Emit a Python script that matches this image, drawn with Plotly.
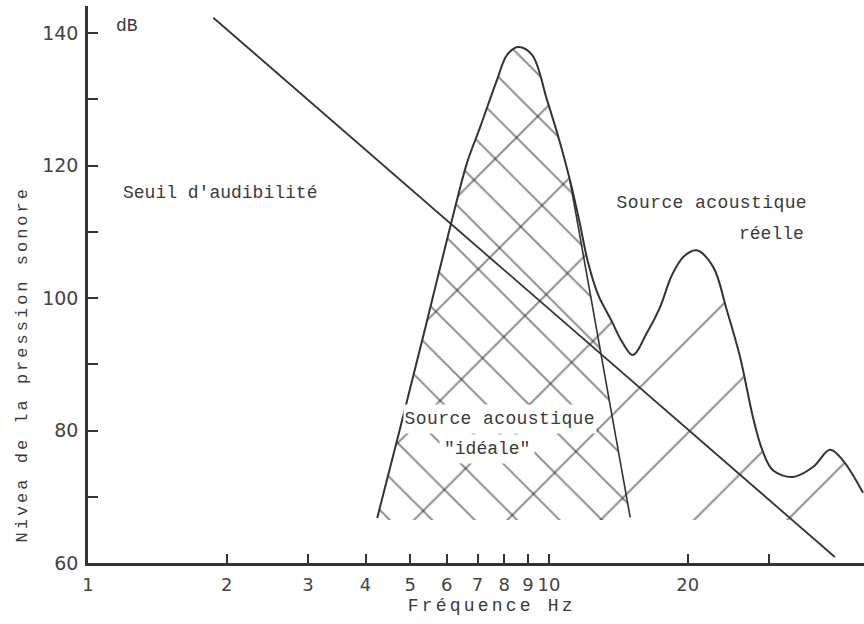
import plotly.graph_objects as go

# ---- data (frequency in Hz, level in dB) ----
# hearing threshold ("Seuil d'audibilité") - straight line
seuil_f = [1.87, 41.7]
seuil_db = [142.3, 60.9]

# real acoustic source spectrum
reelle_f = [4.24, 4.70, 5.33, 5.74, 6.16, 6.64, 7.09, 7.71, 8.11, 8.57, 9.19,
            9.90, 10.57, 11.10, 11.62, 12.15, 12.78, 13.70, 14.40, 15.2, 16.3,
            17.41, 18.49, 19.63, 20.9, 22.7, 24.3, 25.97, 27.7, 29.0, 30.6,
            33.8, 37.4, 40.7, 43.4, 48.0]
reelle_db = [66.8, 79.0, 94.1, 103.2, 111.8, 120.4, 125.8, 132.9, 136.7, 137.9, 136.7,
             129.9, 123.4, 117.8, 111.8, 105.4, 100.5, 96.4, 93.4, 91.4, 94.7,
             98.6, 103.5, 106.3, 107.2, 104.7, 98.2, 91.1, 82.0, 77.1, 74.0,
             73.0, 74.5, 77.1, 75.5, 70.6]

# "ideal" source: follows the real peak up to the branch point, then a straight edge
ideal_branch_f = 11.10
ideal_edge_f = [15.0]
ideal_edge_db = [66.9]

# lower limit of the hatched areas
hatch_floor_db = 66.5

# axis ticks
x_tickvals = [1, 2, 3, 4, 5, 6, 7, 8, 9, 10, 20, 30]
x_ticktext = ["1", "2", "3", "4", "5", "6", "7", "8", "9", "10", "20", ""]
y_tickvals = [60, 70, 80, 90, 100, 110, 120, 130, 140]
y_ticktext = ["60", "", "80", "", "100", "", "120", "", "140"]

# ---- layout geometry ----
W, H = 864, 624
ML, MR, MT, MB = 88, 0, 6, 61
PW, PH = W - ML - MR, H - MT - MB

INK = "#333333"
TXT = "#3a3a3a"
HATCH = "#1e1e1e"
MONO = "Liberation Mono"


def px(xp):
    return (xp - ML) / PW


def py(yp):
    return (H - MB - yp) / PH


k = reelle_f.index(ideal_branch_f)
ideal_f = reelle_f[:k + 1] + ideal_edge_f
ideal_db = reelle_db[:k + 1] + ideal_edge_db

fig = go.Figure()

# shallow hatching over the whole real-source area (curve down to the floor)
fig.add_trace(go.Scatter(
    x=[reelle_f[0], reelle_f[-1]], y=[hatch_floor_db, hatch_floor_db],
    mode="lines", line=dict(width=0), hoverinfo="skip",
))
fig.add_trace(go.Scatter(
    x=reelle_f, y=reelle_db,
    mode="lines", line=dict(width=0, shape="spline", smoothing=1.0),
    fill="tonexty", fillcolor="rgba(0,0,0,0)",
    fillpattern=dict(shape="/", size=66, solidity=0.03,
                     fgcolor=HATCH, bgcolor="rgba(0,0,0,0)"),
    hoverinfo="skip",
))

# steep hatching over the ideal-source area
fig.add_trace(go.Scatter(
    x=[ideal_f[0], ideal_f[-1]], y=[hatch_floor_db, hatch_floor_db],
    mode="lines", line=dict(width=0), hoverinfo="skip",
))
fig.add_trace(go.Scatter(
    x=ideal_f, y=ideal_db,
    mode="lines", line=dict(width=0, shape="spline", smoothing=0.6),
    fill="tonexty", fillcolor="rgba(0,0,0,0)",
    fillpattern=dict(shape="\\", size=30, solidity=0.065,
                     fgcolor=HATCH, bgcolor="rgba(0,0,0,0)"),
    hoverinfo="skip",
))

# hearing threshold
fig.add_trace(go.Scatter(x=seuil_f, y=seuil_db, mode="lines",
                         line=dict(color=INK, width=1.8), hoverinfo="skip"))

# real source curve
fig.add_trace(go.Scatter(x=reelle_f, y=reelle_db, mode="lines",
                         line=dict(color=INK, width=2, shape="spline", smoothing=1.0),
                         hoverinfo="skip"))

# straight right edge of the ideal source
fig.add_trace(go.Scatter(x=ideal_f[k:], y=ideal_db[k:], mode="lines",
                         line=dict(color=INK, width=1.6), hoverinfo="skip"))

annotations = [
    dict(text="Seuil d'audibilité", x=px(220), y=py(193), size=18),
    dict(text="Source acoustique", x=px(712), y=py(203), size=18),
    dict(text="réelle", x=px(805), y=py(234), size=18, xanchor="right"),
    dict(text="Source acoustique", x=px(500), y=py(419), size=18, bg=True),
    dict(text="\"idéale\"", x=px(487), y=py(449), size=18, bg=True),
    dict(text="Fréquence Hz", x=px(492), y=py(606), size=18),
    dict(text="Nivea de la pression sonore", x=px(22), y=py(365), size=17, angle=-90),
    dict(text="dB", x=px(127), y=py(26), size=18),
]
letter_spacing = [0, 0.4, 0, 0.4, 0, 3.2, 3.0, 0]

for a in annotations:
    fig.add_annotation(
        text=a["text"], xref="paper", yref="paper", x=a["x"], y=a["y"],
        xanchor=a.get("xanchor", "center"), yanchor="middle",
        showarrow=False, textangle=a.get("angle", 0),
        font=dict(family=MONO, size=a["size"], color=TXT),
        bgcolor="white" if a.get("bg") else "rgba(0,0,0,0)",
        borderpad=4 if a.get("bg") else 0,
    )

fig.update_xaxes(
    type="log", range=[0, PW / 461.0], showgrid=False, zeroline=False,
    showline=True, linecolor=INK, linewidth=2.6, mirror=False,
    ticks="inside", ticklen=9, tickwidth=1.5, tickcolor=INK,
    tickvals=x_tickvals, ticktext=x_ticktext,
    tickfont=dict(family="DejaVu Sans", size=18, color="#444444"),
    ticklabelstandoff=4,
)
fig.update_yaxes(
    range=[60, 60 + PH / 6.625], showgrid=False, zeroline=False,
    showline=True, linecolor=INK, linewidth=2.6,
    ticks="inside", ticklen=10, tickwidth=1.5, tickcolor=INK,
    tickvals=y_tickvals, ticktext=y_ticktext,
    tickfont=dict(family="DejaVu Sans", size=19, color="#444444"),
    ticklabelstandoff=3,
)

fig.update_layout(
    width=W, height=H,
    margin=dict(l=ML, r=MR, t=MT, b=MB),
    paper_bgcolor="white", plot_bgcolor="white",
    showlegend=False, hovermode=False,
)

spacing_js = "[" + ",".join(str(s) for s in letter_spacing) + "]"
post = (
    "var sp=" + spacing_js + ";"
    "var t=document.querySelectorAll('g.annotation text.annotation-text');"
    "t.forEach(function(e,i){if(sp[i]){e.style.letterSpacing=sp[i]+'px';}});"
)

fig.write_html("out.html", post_script=post, config={"displayModeBar": False})
